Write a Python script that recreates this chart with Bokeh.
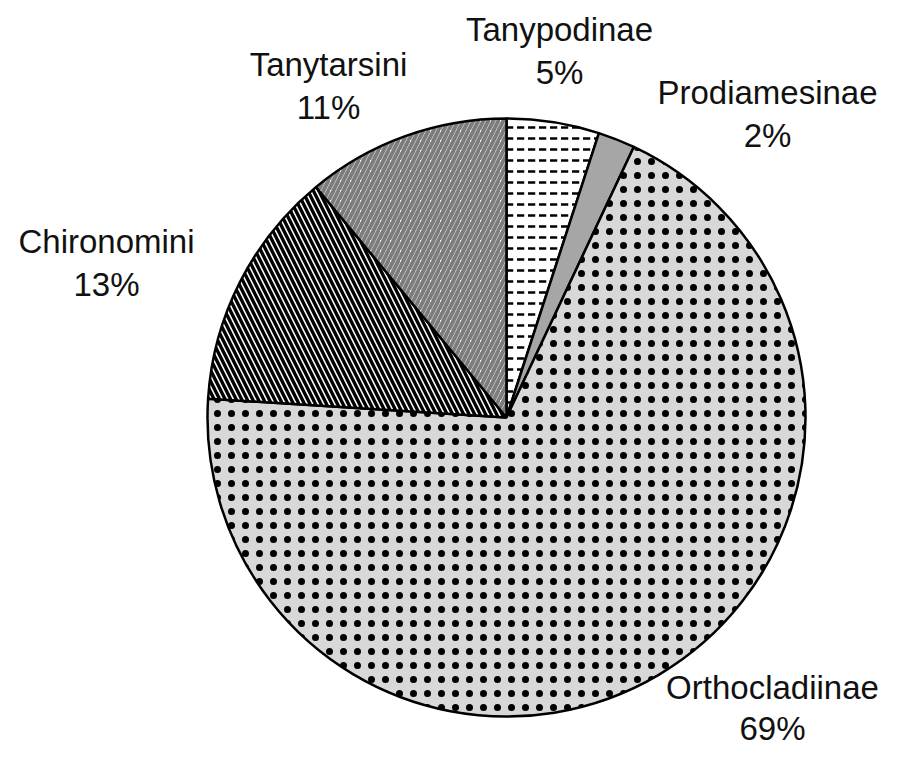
import math
from bokeh.plotting import figure
from bokeh.models import Range1d, ColumnDataSource
from bokeh.core.properties import value
from bokeh.embed import file_html
from bokeh.resources import INLINE

# ---- data ----
categories = ["Tanypodinae", "Prodiamesinae", "Orthocladiinae", "Chironomini", "Tanytarsini"]
percents = [5, 2, 69, 13, 11]
pct_labels = ["5%", "2%", "69%", "13%", "11%"]

# ---- styles ----
fills = ["white", "#a6a6a6", "#d8d8d8", "white", "white"]
hatches = ['"', " ", ".", "\\", "/"]
hatch_colors = ["black", "black", "black", "black", "#7c7c7c"]
hatch_scales = [11, 12, 14, 11, 10]
hatch_weights = [2.5, 1, 2, 3.4, 4]

W, H = 885, 749
p = figure(width=W, height=H, output_backend="svg", toolbar_location=None,
           x_range=Range1d(0, W), y_range=Range1d(-H, 0),
           min_border=0, outline_line_color=None)
p.axis.visible = False
p.grid.visible = False
p.background_fill_color = "white"

cx, cy, r = 506, -417, 299
total = sum(percents)
starts, ends = [], []
acc = 0.0
for v in percents:
    a0 = math.pi / 2 - 2 * math.pi * acc / total
    acc += v
    a1 = math.pi / 2 - 2 * math.pi * acc / total
    starts.append(a0)
    ends.append(a1)

src = ColumnDataSource(dict(start=starts, end=ends, fill=fills, hatch=hatches,
                            hcol=hatch_colors, hscale=hatch_scales, hw=hatch_weights,
                            x=[cx] * 5, y=[cy] * 5))
p.wedge(x="x", y="y", radius=r, start_angle="start", end_angle="end", direction="clock",
        source=src, fill_color="fill", hatch_pattern="hatch", hatch_color="hcol",
        hatch_scale="hscale", hatch_weight="hw", line_color="black", line_width=2.5)

# labels
name_x = [559, 767, 772, 106, 328]
name_y = [-29, -92, -687, -241, -64]
gaps = [43, 43, 41, 43, 43]
p.text(x=name_x, y=name_y, text=categories, text_font=value("Liberation Sans"),
       text_font_size="33px", text_align="center", text_baseline="alphabetic",
       text_color="#111111")
p.text(x=name_x, y=[v - g for v, g in zip(name_y, gaps)], text=pct_labels,
       text_font=value("Liberation Sans"), text_font_size="33px", text_align="center",
       text_baseline="alphabetic", text_color="#111111")

open("out.html", "w").write(file_html(p, INLINE))
